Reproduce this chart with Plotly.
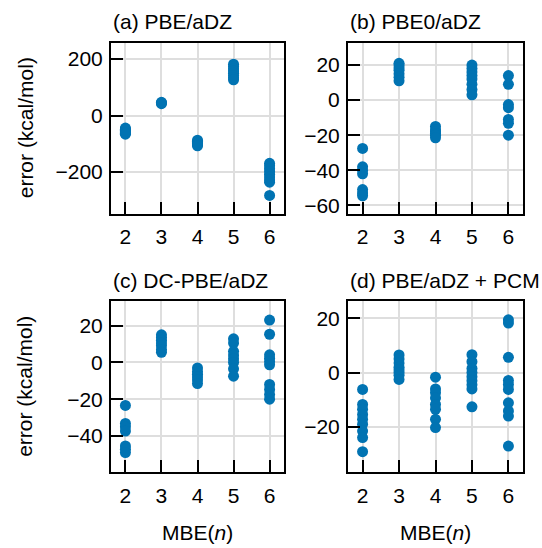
import plotly.graph_objects as go

# MBE truncation order on the x axis
mbe_orders = [2, 3, 4, 5, 6]

# Errors (kcal/mol) for each MBE order, one list per order
pbe_adz_err = [
    [-44, -48, -52, -56, -60, -63, -66],
    [42, 45, 47],
    [-87, -91, -95, -99, -103, -107],
    [182, 174, 166, 158, 150, 142, 134, 127],
    [-169, -178, -188, -198, -208, -218, -228, -236, -283],
]
pbe0_adz_err = [
    [-27.5, -38, -40, -42, -51, -53, -54.5],
    [21, 20, 18.5, 17, 15, 13, 11],
    [-15, -17, -18, -19, -20, -21.5],
    [20, 18, 16, 14, 12, 9, 6, 3],
    [14, 9, -2.5, -4.3, -11, -13.2, -20],
]
dc_pbe_adz_err = [
    [-23.4, -33.2, -35, -37.3, -45.4, -47.2, -49],
    [15, 13.5, 12, 10.5, 9, 7, 5.5],
    [-3, -5, -6.5, -8, -9.5, -11.5],
    [12.8, 10.5, 6, 4, 2, 0, -3.5, -7.5],
    [23, 15.3, 4.1, 2.3, 0.5, -1.3, -12, -14.7, -17.5, -20],
]
pbe_adz_pcm_err = [
    [-6.2, -11.7, -13.5, -15.4, -17.2, -19, -21.5, -23.9, -29.1],
    [6.5, 5, 3.5, 2, 1, 0, -1, -2.5],
    [-1.7, -6, -7.4, -9.3, -11.7, -13.5, -17.2, -20.2],
    [6.6, 4, 1.5, 0, -1.5, -3, -4.5, -6, -12.6],
    [19.4, 18.2, 5.6, -2.9, -4.4, -6.2, -11.1, -14.1, -16, -27],
]

panel_titles = ["(a) PBE/aDZ", "(b) PBE0/aDZ", "(c) DC-PBE/aDZ", "(d) PBE/aDZ + PCM"]
panel_data = [pbe_adz_err, pbe0_adz_err, dc_pbe_adz_err, pbe_adz_pcm_err]
y_ticks = [[-200, 0, 200], [-60, -40, -20, 0, 20], [-40, -20, 0, 20], [-20, 0, 20]]
y_ranges = [[-348, 258], [-64.8, 32.7], [-59.8, 33.2], [-36.7, 26.2]]

y_label = "error (kcal/mol)"
x_label = "MBE(<i>n</i>)"

W, H = 542, 548
FONT = "Liberation Sans, Arial, Helvetica, sans-serif"
BLUE = "#0173b2"
TEXT_SIZE = 21

# panel boxes in pixels: (left, right, top, bottom)
boxes = [(111, 284, 43, 215), (348, 523, 43, 215),
         (111, 284, 303, 475), (348, 523, 303, 475)]

fig = go.Figure()
layout = {}
annotations = []

for i, (series, box) in enumerate(zip(panel_data, boxes)):
    k = "" if i == 0 else str(i + 1)
    xs, ys = [], []
    for n, vals in zip(mbe_orders, series):
        xs += [n] * len(vals)
        ys += vals
    fig.add_trace(go.Scatter(
        x=xs, y=ys, mode="markers", xaxis="x" + k, yaxis="y" + k,
        marker=dict(color=BLUE, size=11, line=dict(width=0)),
        showlegend=False, hoverinfo="skip",
    ))
    l, r, t, b = box
    axis_common = dict(
        showline=True, linewidth=2, linecolor="black", mirror=True,
        ticks="inside", ticklen=12, tickwidth=2, tickcolor="black",
        showgrid=True, gridcolor="#dedede", gridwidth=1.5,
        zeroline=False, tickfont=dict(family=FONT, size=TEXT_SIZE, color="black"),
    )
    layout["xaxis" + k] = dict(
        axis_common, domain=[l / W, r / W], anchor="y" + k,
        range=[1.6, 6.4], tickvals=mbe_orders, ticklabelstandoff=3,
    )
    layout["yaxis" + k] = dict(
        axis_common, domain=[1 - b / H, 1 - t / H], anchor="x" + k,
        range=y_ranges[i], tickvals=y_ticks[i], ticklabelstandoff=2,
    )
    annotations.append(dict(
        text=panel_titles[i], x=l / W, y=1 - 22 / H if i < 2 else 1 - 282 / H,
        xref="paper", yref="paper", xanchor="left", yanchor="middle",
        showarrow=False, font=dict(family=FONT, size=TEXT_SIZE, color="black"),
    ))
    if i % 2 == 0:
        annotations.append(dict(
            text=y_label, x=25 / W, y=1 - (t + b) / 2 / H, textangle=-90,
            xref="paper", yref="paper", xanchor="center", yanchor="middle",
            showarrow=False, font=dict(family=FONT, size=TEXT_SIZE, color="black"),
        ))
    if i >= 2:
        annotations.append(dict(
            text=x_label, x=(l + r) / 2 / W, y=1 - 535 / H,
            xref="paper", yref="paper", xanchor="center", yanchor="middle",
            showarrow=False, font=dict(family=FONT, size=TEXT_SIZE, color="black"),
        ))

fig.update_layout(
    width=W, height=H, margin=dict(l=0, r=0, t=0, b=0),
    paper_bgcolor="white", plot_bgcolor="white",
    annotations=annotations, **layout,
)

fig.write_html("out.html")
